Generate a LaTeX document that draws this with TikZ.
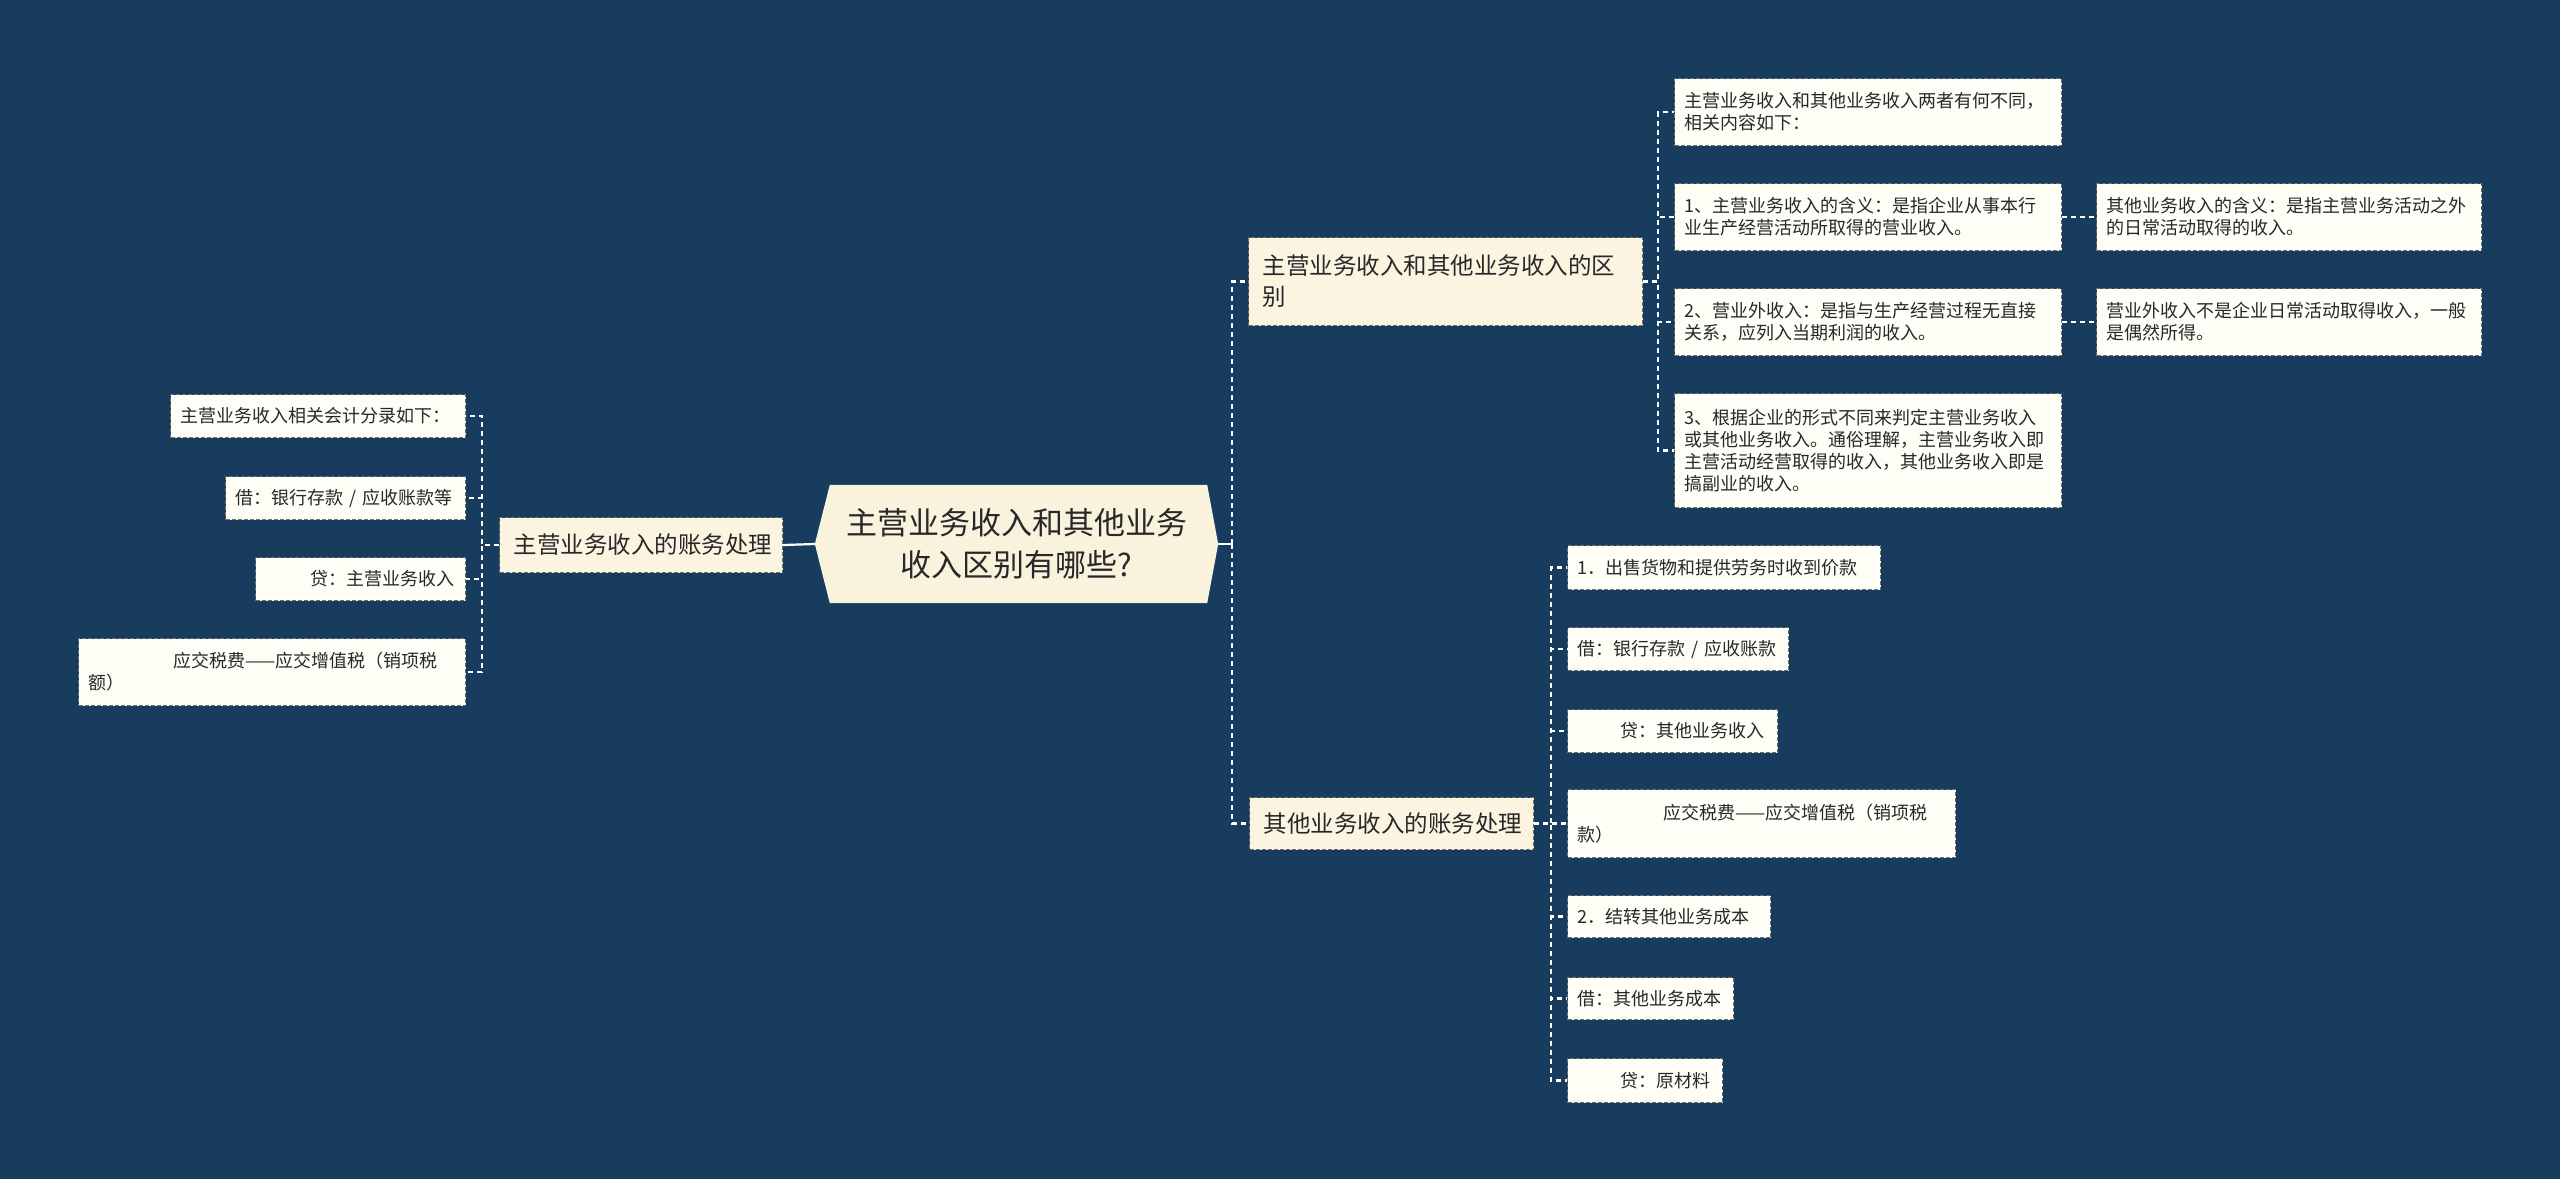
\documentclass[tikz,border=0pt]{standalone}
\usepackage{fontspec}
\setmainfont{Noto Sans CJK SC}
\usetikzlibrary{calc}
\definecolor{bgc}{RGB}{23,60,93}
\definecolor{leaffill}{RGB}{254,253,246}
\definecolor{brfill}{RGB}{250,244,225}
\definecolor{rootfill}{RGB}{249,243,222}
\definecolor{bordc}{RGB}{110,110,110}
\definecolor{txt}{RGB}{40,40,40}
\tikzset{
  conn/.style={draw=white, line width=2.2pt, dash pattern=on 5pt off 4pt},
  solidconn/.style={draw=white, line width=2.2pt},
  boxbase/.style={rectangle, anchor=north west, fill=leaffill, draw=bordc, line width=1pt,
    dash pattern=on 4pt off 2pt, text=txt, align=left, inner xsep=10pt, inner ysep=0pt},
  leaf/.style={boxbase, font=\fontsize{18}{22}\selectfont},
  branch/.style={boxbase, fill=brfill, inner xsep=14pt, font=\fontsize{23.5}{31}\selectfont},
}
\begin{document}
\begin{tikzpicture}[x=1pt,y=-1pt]
\useasboundingbox (0,0) rectangle (2560,1179);
\fill[bgc] (0,0) rectangle (2560,1179);

% root
\node[minimum width=403pt, minimum height=118pt, inner sep=0pt] (root) at (1016.5,544) {};
\fill[rootfill] (root.west) -- ([xshift=15pt]root.north west) -- ([xshift=-11pt]root.north east)
  -- (root.east) -- ([xshift=-11pt]root.south east) -- ([xshift=15pt]root.south west) -- cycle;
\node[text=txt, align=center, font=\fontsize{31}{42}\selectfont] (roottext) at (root.center) {主营业务收入和其他业务\\收入区别有哪些?};

% branches
\node[branch, minimum width=394pt, minimum height=88pt, text width=366pt] (b1) at (1248,237) {主营业务收入和其他业务收入的区\\别};
\node[branch, minimum width=284pt, minimum height=52pt, text width=256pt] (b2) at (1249,797) {其他业务收入的账务处理};
\node[branch, minimum width=283pt, minimum height=55pt, text width=255pt] (bL) at (499,517) {主营业务收入的账务处理};

% branch 1 children
\node[leaf, minimum width=387pt, minimum height=67pt, text width=367pt] (c1) at (1674,78) {主营业务收入和其他业务收入两者有何不同，\\相关内容如下：};
\node[leaf, minimum width=387pt, minimum height=67pt, text width=367pt] (c2) at (1674,183) {1、主营业务收入的含义：是指企业从事本行\\业生产经营活动所取得的营业收入。};
\node[leaf, minimum width=385pt, minimum height=67pt, text width=365pt] (c2x) at (2096,183) {其他业务收入的含义：是指主营业务活动之外\\的日常活动取得的收入。};
\node[leaf, minimum width=387pt, minimum height=67pt, text width=367pt] (c3) at (1674,288) {2、营业外收入：是指与生产经营过程无直接\\关系，应列入当期利润的收入。};
\node[leaf, minimum width=385pt, minimum height=67pt, text width=365pt] (c3x) at (2096,288) {营业外收入不是企业日常活动取得收入，一般\\是偶然所得。};
\node[leaf, minimum width=387pt, minimum height=114pt, text width=367pt] (c4) at (1674,393) {3、根据企业的形式不同来判定主营业务收入\\或其他业务收入。通俗理解，主营业务收入即\\主营活动经营取得的收入，其他业务收入即是\\搞副业的收入。};

% branch 2 children
\node[leaf, minimum width=313pt, minimum height=44pt, text width=293pt] (d1) at (1567,545) {1．出售货物和提供劳务时收到价款};
\node[leaf, minimum width=221pt, minimum height=43pt, text width=201pt] (d2) at (1567,627) {借：银行存款 / 应收账款};
\node[leaf, minimum width=210pt, minimum height=43pt, text width=190pt] (d3) at (1567,709) {\hspace*{43pt}贷：其他业务收入};
\node[leaf, minimum width=388pt, minimum height=68pt, text width=368pt] (d4) at (1567,789) {\hspace*{86pt}应交税费——应交增值税（销项税\\款）};
\node[leaf, minimum width=203pt, minimum height=42pt, text width=183pt] (d5) at (1567,895) {2．结转其他业务成本};
\node[leaf, minimum width=166pt, minimum height=42pt, text width=146pt] (d6) at (1567,977) {借：其他业务成本};
\node[leaf, minimum width=155pt, minimum height=44pt, text width=135pt] (d7) at (1567,1058) {\hspace*{43pt}贷：原材料};

% left children
\node[leaf, minimum width=295pt, minimum height=43pt, text width=275pt] (l1) at (170,394) {主营业务收入相关会计分录如下：};
\node[leaf, minimum width=240pt, minimum height=43pt, text width=220pt] (l2) at (225,476) {借：银行存款 / 应收账款等};
\node[leaf, minimum width=210pt, minimum height=43pt, text width=190pt] (l3) at (255,557) {\hspace*{45pt}贷：主营业务收入};
\node[leaf, minimum width=387pt, minimum height=67pt, text width=367pt] (l4) at (78,638) {\hspace*{85pt}应交税费——应交增值税（销项税\\额）};

% connectors
\draw[solidconn] (root.east) -- ++(14,0);
\draw[conn] (root.east) ++(14,0) |- (b1.west);
\draw[conn] (root.east) ++(14,0) |- (b2.west);
\draw[solidconn] (root.west) -- (bL.east);

\foreach \n in {c1,c2,c3,c4} \draw[conn] (b1.east) -- ++(15,0) |- (\n.west);
\draw[conn] (c2.east) -- (c2x.west);
\draw[conn] (c3.east) -- (c3x.west);

\foreach \n in {d1,d2,d3,d4,d5,d6,d7} \draw[conn] (b2.east) -- ++(17,0) |- (\n.west);
\foreach \n in {l1,l2,l3,l4} \draw[conn] (bL.west) -- ++(-17,0) |- (\n.east);
\end{tikzpicture}
\end{document}
